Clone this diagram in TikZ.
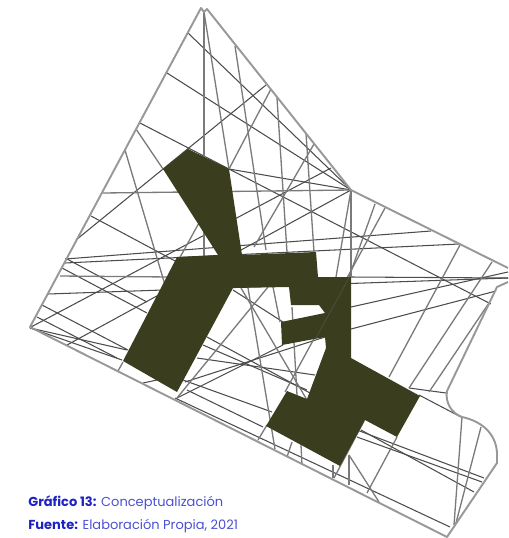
\documentclass[tikz,border=0pt]{standalone}
\usepackage{fontspec}
\setmainfont{Poppins}
\usepackage{xcolor}
\definecolor{olivefill}{HTML}{3A3E1E}
\definecolor{edgegray}{HTML}{989898}
\definecolor{captionblue}{HTML}{4A50D2}
\definecolor{captionbold}{HTML}{1E22C4}
\begin{document}
\begin{tikzpicture}[x=0.02cm,y=-0.02cm,
  boundary/.style={draw=edgegray,line width=1.1pt,line join=round},
  axisline/.style={draw=black!70,line width=0.6pt},
  roadline/.style={draw=black!52,line width=0.75pt},
  mass/.style={fill=olivefill,draw=none},
  caption/.style={anchor=west,inner sep=0pt,font=\fontsize{7.4}{9}\selectfont,text=captionblue}]
\useasboundingbox (0,0) rectangle (508,538);
\foreach \xa/\ya/\xb/\yb in {188/33/351/190,167/73/351/190,140/123/229/169,229/169/351/190,229/169/491/304,91/216/177/262,
  76/240/266/85,331/168/31/327,351/190/67/345,65/259/431/231,65/263/459/244,67/259/147/302,62/268/147/313,48/294/508/278,351/277/508/278,
  42/305/128/350,37/317/117/358,30/328/127/350,30/328/122/360,177/398/283/345,185/382/325/337,207/337/310/393,203/345/307/390,197/358/315/375,
  183/380/272/412,187/390/263/427,175/398/450/527,233/290/283/322,351/307/508/272,351/329/496/291,357/430/484/478,357/437/482/482,361/430/474/492,
  409/388/446/393,419/395/461/417,143/383/157/380}
  \draw[axisline] (\xa,\ya) -- (\xb,\yb);
\foreach \xa/\ya/\xb/\yb in {136/129/163/169,125/150/165/285,103/193/351/190,60/276/170/277,204/12/204/256,204/12/229/169,235/46/266/250,271/89/229/169,
  277/98/287/252,306/133/314/252,314/144/254/247,205/212/173/270,268/287/177/398,248/288/275/449,273/287/280/322,241/288/307/400,292/307/297/395,
  336/277/351/190,351/190/351/277,375/204/349/277,385/208/285/392,460/245/389/377,492/262/409/388,489/303/429/392,462/417/454/525,481/427/456/523,
  397/437/367/493,349/455/379/502,349/455/349/485,364/421/334/478,333/465/333/478,287/457/292/442,302/465/301/445,258/440/267/425,118/371/123/362}
  \draw[roadline] (\xa,\ya) -- (\xb,\yb);
\draw[boundary] (508,268) -- (351,190) -- (207,9) -- (204,12) -- (201,8) -- (30,327) -- (447,537) -- (497,463) -- (497,453) .. controls (496,433) and (481,421) .. (462,417) .. controls (451,413) and (445,402) .. (447,391) -- (497,287) -- (508,282);
\fill[mass] (163,169) -- (188,149) -- (229,169) -- (242,255) -- (316,252) -- (318,277) -- (351,277) -- (351,358) -- (420,396) -- (397,437) -- (365,420) -- (340,466) -- (266,426) -- (287,391) -- (307,399) -- (326,348) -- (325,337) -- (282,345) -- (281,322) -- (325,313) -- (319,305) -- (291,305) -- (289,287) -- (233,288) -- (177,392) -- (123,361) -- (177,257) -- (218,255) -- cycle;
\draw[draw=black!62,line width=0.5pt,opacity=0.45] (351,274) -- (316,338);
\node[caption] (figtitle) at (28,503) {\textcolor{captionbold}{\textbf{Gráfico 13:}} Conceptualización};
\node[caption] (figsource) at (28,526) {\textcolor{captionbold}{\textbf{Fuente:}} Elaboración Propia, 2021};
\end{tikzpicture}
\end{document}
